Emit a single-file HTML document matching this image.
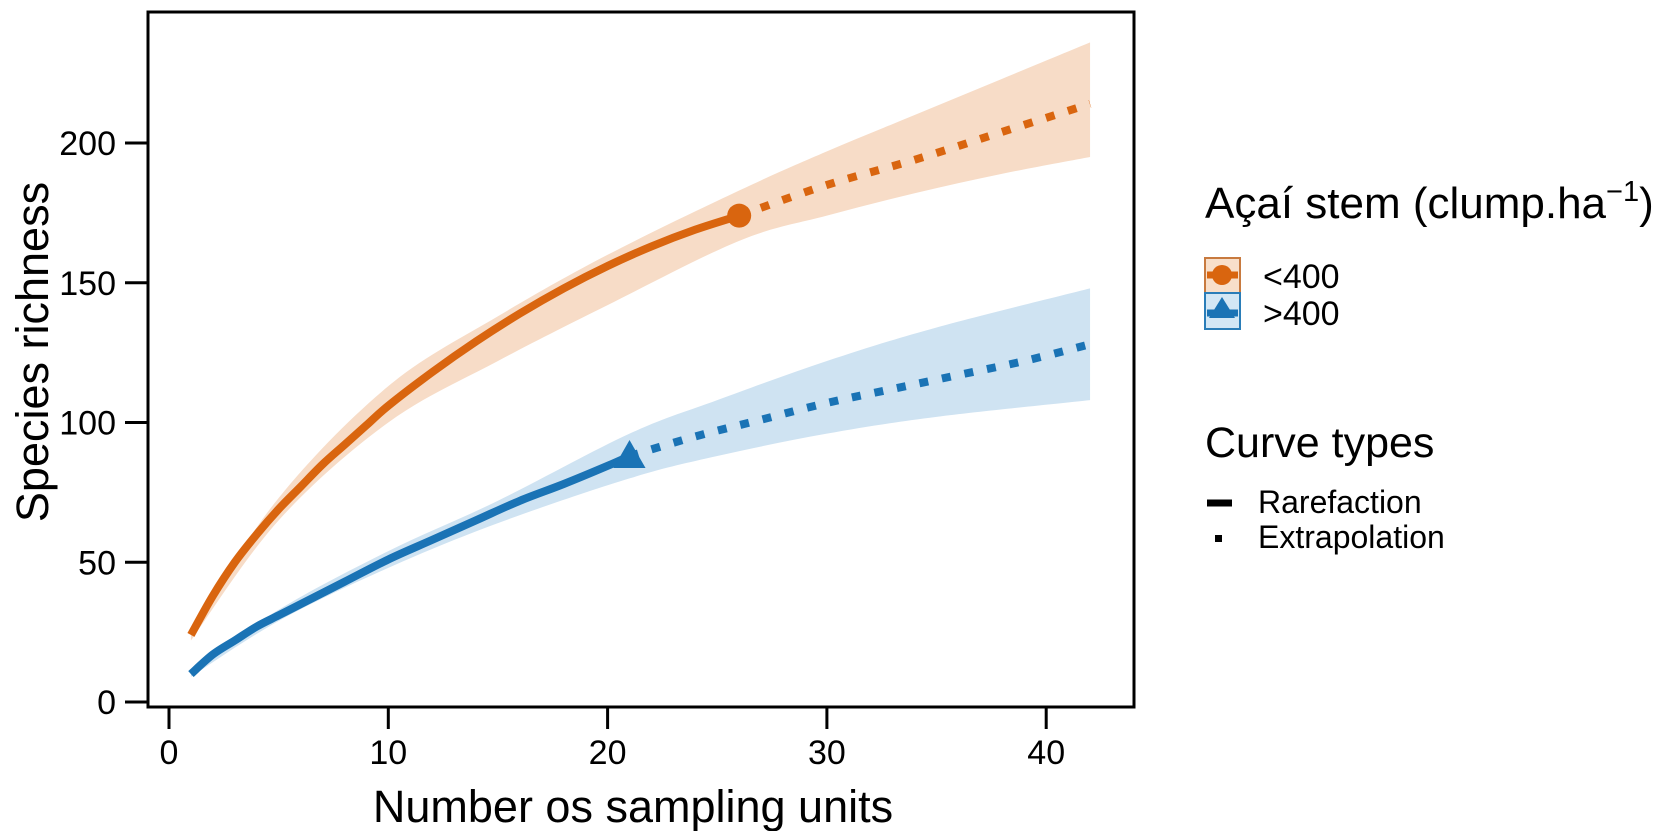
<!DOCTYPE html>
<html><head><meta charset="utf-8"><style>
html,body{margin:0;padding:0;background:#fff;}
svg{display:block;font-family:"Liberation Sans",Arial,sans-serif;}
</style></head><body>
<svg id="chart" width="1675" height="831" xmlns="http://www.w3.org/2000/svg">
<g id="bands"></g><g id="lines"></g><g id="axes"></g>
<g>
<text x="1205" y="218" font-size="44">Açaí stem (clump.ha<tspan dy="-17" font-size="29">−1</tspan><tspan dy="17">)</tspan></text>
<g>
<rect x="1205" y="258" width="35" height="35" fill="#f8dfca" stroke="#c87a3f" stroke-width="2"/>
<line x1="1207" y1="275" x2="1238" y2="275" stroke="#d9650f" stroke-width="7"/>
<circle cx="1222" cy="275" r="10" fill="#d9650f"/>
<text x="1263" y="288" font-size="34">&lt;400</text></g>
<g>
<rect x="1205" y="293" width="35" height="36" fill="#d3e7f5" stroke="#2a7db8" stroke-width="2"/>
<line x1="1207" y1="313" x2="1238" y2="313" stroke="#1a73b5" stroke-width="7"/>
<polygon points="1222,297 1235,318 1209,318" fill="#1a73b5"/>
<text x="1263" y="325" font-size="34">&gt;400</text></g>
<text x="1205" y="457" font-size="43">Curve types</text>
<g>
<line x1="1207" y1="503" x2="1232" y2="503" stroke="#000" stroke-width="7"/>
<text x="1258" y="513" font-size="32">Rarefaction</text></g>
<g>
<rect x="1215" y="535" width="7" height="7" fill="#000"/>
<text x="1258" y="548" font-size="32">Extrapolation</text></g>
</g>
<text x="633" y="822" font-size="45" text-anchor="middle">Number os sampling units</text>
<text transform="translate(48,352) rotate(-90)" font-size="45" text-anchor="middle">Species richness</text>
</svg>
<script>
const xTicks=[0,10,20,30,40];
const yTicks=[0,50,100,150,200];
const orangeRareX=[1,2,3,4,5,6,7,8,9,10,12,14,16,18,20,22,24,26];
const orangeRareY=[24,38,50,60,69,77,85,92,99,106,118,129,139,148,156,163,169,174];
const orangeExtX=[26,30,34,38,42];
const orangeExtY=[174,185,194,204,214];
const orangeBandX=[1,5,10,15,20,26,30,34,38,42];
const orangeLo=[22,65,100,122,142,165,174,182,189,195];
const orangeHi=[26,73,113,138,160,183,197,210,223,236];
const blueRareX=[1,2,3,4,5,6,8,10,12,14,16,18,20,21];
const blueRareY=[10,17,22,27,31,35,43,51,58,65,72,78,84.5,88];
const blueExtX=[21,24,27,30,33,36,39,42];
const blueExtY=[88,95,101,107,112,117,122,128];
const blueBandX=[1,5,10,15,21,25,30,35,42];
const blueLo=[9,29,48,64,80,88,96,102,108];
const blueHi=[11,33,54,72,96,108,122,134,148];

const NS='http://www.w3.org/2000/svg';
const X0=169,XS=21.93,Y0=702,YS=2.795;
const sx=v=>X0+v*XS, sy=v=>Y0-v*YS;
function mk(tag,attrs,parent){const e=document.createElementNS(NS,tag);for(const k in attrs)e.setAttribute(k,attrs[k]);parent.appendChild(e);return e;}
function smooth(pts,start){
 let d=start?('M'+pts[0][0]+','+pts[0][1]):('L'+pts[0][0]+','+pts[0][1]);
 for(let i=0;i<pts.length-1;i++){
  const p0=pts[i-1]||pts[i],p1=pts[i],p2=pts[i+1],p3=pts[i+2]||p2;
  const c1=[p1[0]+(p2[0]-p0[0])/6,p1[1]+(p2[1]-p0[1])/6];
  const c2=[p2[0]-(p3[0]-p1[0])/6,p2[1]-(p3[1]-p1[1])/6];
  d+='C'+c1+' '+c2+' '+p2;
 }
 return d;
}
const bands=document.getElementById('bands'),lines=document.getElementById('lines'),axes=document.getElementById('axes');
function band(xs,lo,hi,fill,name){
 const top=xs.map((x,i)=>[sx(x),sy(hi[i])]);
 const bot=xs.map((x,i)=>[sx(x),sy(lo[i])]).reverse();
 const p=mk('path',{d:smooth(top,true)+smooth(bot,false)+'Z',fill:fill},bands);
 
 
}
function line(xs,ys,col,dash,name){
 const p=mk('path',{d:smooth(xs.map((x,i)=>[sx(x),sy(ys[i])]),true),fill:'none',stroke:col,'stroke-width':8,'stroke-linejoin':'round'},lines);
 if(dash)p.setAttribute('stroke-dasharray',dash);
 
 
}
band(orangeBandX,orangeLo,orangeHi,'#f7dcc7','band-lt400');
band(blueBandX,blueLo,blueHi,'#cfe3f2','band-gt400');
line(orangeRareX,orangeRareY,'#d9650f',null,'rarefaction-lt400');
line(orangeExtX,orangeExtY,'#d9650f','9 14','extrapolation-lt400');
line(blueRareX,blueRareY,'#1a73b5',null,'rarefaction-gt400');
line(blueExtX,blueExtY,'#1a73b5','9 14','extrapolation-gt400');
const oi=orangeRareX.length-1;
const c=mk('circle',{cx:sx(orangeRareX[oi]),cy:sy(orangeRareY[oi]),r:12,fill:'#d9650f'},lines);


const bi=blueRareX.length-1,tx=sx(blueRareX[bi]),ty=sy(blueRareY[bi]);
const t=mk('polygon',{points:`${tx},${ty-16} ${tx+16},${ty+12} ${tx-16},${ty+12}`,fill:'#1a73b5'},lines);


const fr=mk('rect',{x:148,y:12,width:986,height:695,fill:'none',stroke:'#000','stroke-width':3},axes);


xTicks.forEach(v=>{
 const l=mk('line',{x1:sx(v),x2:sx(v),y1:707,y2:729,stroke:'#000','stroke-width':3},axes);
 
 
 const tt=mk('text',{x:sx(v),y:764,'font-size':34,'text-anchor':'middle'},axes);
 tt.textContent=v;
 
 
});
yTicks.forEach(v=>{
 const l=mk('line',{x1:125,x2:148,y1:sy(v),y2:sy(v),stroke:'#000','stroke-width':3},axes);
 
 
 const tt=mk('text',{x:116,y:sy(v)+12,'font-size':34,'text-anchor':'end'},axes);
 tt.textContent=v;
 
 
});
</script>
</body></html>
